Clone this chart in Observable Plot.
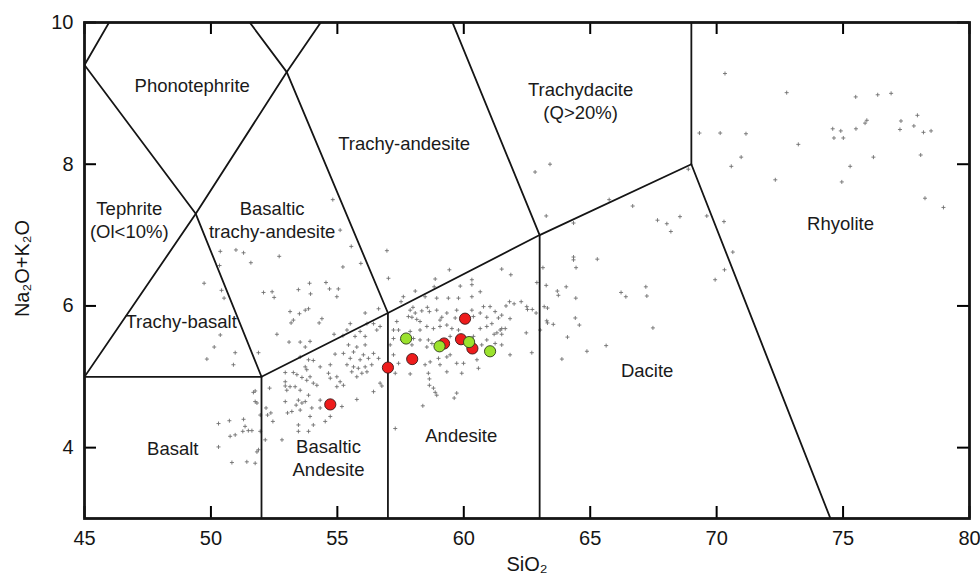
<!DOCTYPE html>
<html><head><meta charset="utf-8">
<script src="https://cdn.jsdelivr.net/npm/d3@7"></script>
<script src="https://cdn.jsdelivr.net/npm/@observablehq/plot@0.6"></script>
<style>body{margin:0;background:#fff;} #chart svg{display:block;font-family:'Liberation Sans',Arial,Helvetica,sans-serif;color:#151515;background:#fff}</style>
</head><body><div id="chart"></div>
<script>
// Axis domains and tick values
const xDomain = [45, 80];
const yDomain = [3, 10];
const xTicks = [45, 50, 55, 60, 65, 70, 75, 80];
const yTicks = [4, 6, 8, 10];

// TAS field boundaries (SiO2, Na2O+K2O)
const boundaryLines = [
  [[45, 9.4], [49.4, 7.3], [52, 5]],
  [[45, 5], [49.4, 7.3], [53, 9.3], [57.6, 11.7]],
  [[45, 9.4], [48.4, 11.5]],
  [[48.4, 11.5], [53, 9.3], [57, 5.9]],
  [[57, 3], [57, 5.9]],
  [[52, 3], [52, 5]],
  [[45, 5], [52, 5], [57, 5.9], [63, 7], [69, 8]],
  [[63, 3], [63, 7], [57.6, 11.7]],
  [[69, 8], [69, 12]],
  [[69, 8], [74.5, 3]]
];

// Field names and label positions
const regionNames = ["Phonotephrite", "Tephrite\n(Ol<10%)", "Basaltic\ntrachy-andesite", "Trachy-andesite",
  "Trachydacite\n(Q>20%)", "Trachy-basalt", "Basalt", "Basaltic\nAndesite", "Andesite", "Dacite", "Rhyolite"];
const regionSiO2 = [49.26, 46.77, 52.42, 57.64, 64.62, 48.82, 48.49, 54.65, 59.9, 67.25, 74.9];
const regionAlk = [9.13, 7.23, 7.23, 8.30, 8.90, 5.80, 4.00, 3.87, 4.18, 5.10, 7.17];

// Sample groups
const redSiO2 = [60.05, 59.89, 59.22, 60.34, 57.96, 57.0, 54.72];
const redAlk = [5.82, 5.53, 5.47, 5.40, 5.25, 5.13, 4.61];
const greenSiO2 = [57.72, 59.04, 60.21, 61.04];
const greenAlk = [5.54, 5.43, 5.49, 5.36];

// Background compilation (SiO2, Na2O+K2O)
const bgPoints = [
[50.37,6.77],[50.99,6.79],[51.29,6.75],[51.58,6.61],[52.70,6.70],[50.34,6.57],[49.73,6.32],[50.42,6.22],[50.52,6.11],[52.08,6.19],
[52.42,6.20],[52.50,6.12],[53.46,6.23],[53.90,6.32],[53.94,6.17],[54.55,6.33],[54.69,6.24],[54.98,6.13],[55.04,6.24],[53.13,5.92],
[53.50,5.89],[53.73,5.94],[53.86,5.96],[53.26,5.80],[53.17,5.76],[54.39,5.82],[54.28,5.76],[52.61,5.60],[54.87,5.60],[53.09,5.49],
[53.53,5.49],[53.92,5.50],[53.73,5.42],[50.13,5.42],[49.84,5.25],[50.89,5.17],[50.96,5.34],[51.88,5.34],[53.53,5.28],[53.86,5.24],
[54.05,5.23],[53.73,5.14],[53.79,5.10],[54.32,5.14],[54.72,5.17],[54.91,5.32],[54.65,5.05],[54.72,4.98],[54.98,5.00],[52.94,5.06],
[53.26,5.06],[53.40,5.03],[53.60,4.99],[53.79,4.95],[53.92,5.00],[52.94,4.93],[53.13,4.86],[52.94,4.87],[53.00,4.81],[53.33,4.86],
[53.53,4.81],[54.05,4.91],[54.19,4.88],[54.98,4.86],[52.32,4.84],[51.75,4.80],[51.68,4.78],[51.75,4.65],[52.94,4.65],[53.46,4.67],
[53.60,4.63],[53.73,4.65],[53.86,4.74],[54.32,4.67],[53.37,4.60],[53.53,4.53],[53.99,4.56],[54.32,4.56],[54.58,4.58],[52.18,4.56],
[52.24,4.46],[52.37,4.49],[52.45,4.37],[53.03,4.49],[53.20,4.51],[53.92,4.44],[54.52,4.37],[54.72,4.44],[53.46,4.32],[54.05,4.32],
[53.46,4.23],[53.86,4.23],[52.81,4.11],[52.15,4.11],[51.95,4.23],[51.88,3.97],[51.75,3.78],[50.30,4.34],[50.73,4.38],[51.29,4.40],
[51.35,4.30],[51.26,4.23],[51.48,4.24],[51.62,4.24],[50.76,4.16],[50.96,4.18],[50.30,4.01],[50.83,3.79],[51.42,3.80],[51.82,3.94],
[51.82,4.63],[51.95,4.46],[50.37,5.59],[54.82,7.50],[55.11,7.07],[55.55,6.84],[55.22,6.55],[55.93,6.60],[56.96,6.78],[57.02,6.39],
[58.87,6.38],[59.43,6.51],[59.86,6.28],[60.32,6.37],[60.32,6.30],[61.50,6.52],[61.86,6.44],[62.82,7.89],[63.41,8.00],[63.26,7.27],
[64.34,7.17],[66.68,7.41],[65.75,7.50],[67.66,7.21],[68.03,7.16],[68.19,7.05],[68.55,7.26],[64.34,6.69],[64.34,6.65],[65.28,6.66],
[64.44,6.54],[63.13,6.54],[63.26,6.29],[64.05,6.27],[63.70,6.21],[63.74,6.15],[64.43,6.11],[66.22,6.19],[66.41,6.13],[67.20,6.27],
[67.24,6.14],[64.41,5.83],[64.57,5.73],[67.48,5.69],[64.10,5.56],[65.63,5.44],[64.87,5.36],[63.88,5.25],[62.89,6.33],[63.18,5.99],
[63.31,5.97],[63.28,5.79],[63.31,5.76],[63.54,5.74],[63.02,5.66],[62.86,5.90],[62.69,5.34],[61.81,6.06],[61.99,6.03],[62.27,6.06],
[61.67,6.00],[62.49,5.99],[62.52,5.95],[62.71,5.95],[61.24,5.92],[61.50,5.87],[61.37,5.83],[61.83,5.82],[61.11,5.75],[61.50,5.68],
[61.64,5.68],[61.44,5.66],[61.31,5.62],[61.20,5.60],[61.50,5.60],[62.47,5.62],[61.24,5.47],[61.50,5.45],[61.83,5.31],[61.04,5.99],
[58.83,6.27],[58.08,6.21],[57.61,6.13],[57.52,6.06],[58.47,6.13],[58.93,6.11],[59.39,6.11],[60.65,6.20],[60.32,6.13],[59.79,6.11],
[56.10,5.90],[56.63,5.96],[56.43,5.75],[56.17,5.75],[55.90,5.64],[55.51,5.75],[55.38,5.66],[55.22,5.58],[55.70,5.57],[56.10,5.57],
[55.44,5.45],[55.77,5.42],[56.10,5.45],[56.56,5.66],[56.69,5.71],[57.22,5.66],[57.35,5.78],[57.88,5.94],[57.99,5.98],[58.08,5.90],
[58.34,5.93],[58.56,5.98],[58.64,5.92],[58.93,5.94],[57.81,5.85],[57.95,5.84],[58.14,5.81],[58.27,5.78],[59.13,5.84],[59.06,5.80],
[59.33,5.90],[59.72,5.94],[59.66,5.83],[60.32,5.94],[60.38,5.85],[60.65,5.90],[60.78,5.99],[60.91,5.84],[57.42,5.66],[57.88,5.64],
[58.27,5.66],[58.54,5.71],[58.80,5.68],[59.06,5.71],[59.33,5.73],[59.53,5.68],[59.79,5.66],[60.65,5.68],[60.91,5.71],[57.22,5.54],
[57.55,5.52],[58.01,5.54],[58.27,5.52],[58.60,5.52],[59.46,5.57],[60.38,5.57],[57.09,5.45],[57.95,5.45],[58.54,5.42],[58.74,5.47],
[60.71,5.45],[60.91,5.52],[55.24,5.33],[55.64,5.35],[56.03,5.31],[56.43,5.33],[55.51,5.26],[55.90,5.24],[56.23,5.26],[56.63,5.26],
[55.38,5.17],[55.64,5.14],[55.83,5.12],[56.10,5.14],[56.36,5.17],[55.57,5.07],[55.97,5.05],[56.17,5.07],[55.77,5.00],[55.11,4.93],
[55.24,4.88],[56.69,4.91],[56.76,4.87],[56.43,4.79],[55.18,4.58],[55.77,4.68],[57.29,4.27],[57.29,5.05],[57.88,5.04],[57.42,5.19],
[57.22,5.31],[58.47,5.17],[58.67,5.21],[59.00,5.26],[59.33,5.28],[59.46,5.31],[59.72,5.19],[59.99,5.19],[59.06,5.17],[59.33,5.07],
[60.52,5.24],[60.58,5.12],[59.92,5.05],[58.60,5.05],[58.64,4.97],[58.64,4.88],[58.80,4.84],[58.87,4.78],[58.93,4.74],[59.72,4.77],
[59.62,4.70],[58.38,4.59],
[70.33,9.28],[72.77,9.01],[75.50,8.95],[76.37,8.98],[76.90,9.00],[77.94,8.69],[77.29,8.61],[75.87,8.58],[75.94,8.62],[74.59,8.50],
[74.91,8.47],[75.51,8.50],[74.64,8.37],[75.01,8.37],[77.25,8.49],[77.80,8.54],[78.18,8.45],[78.48,8.47],[73.23,8.28],[69.32,8.44],
[70.14,8.44],[71.16,8.43],[70.97,8.10],[70.58,7.97],[76.20,8.10],[75.28,7.97],[78.07,8.13],[72.32,7.78],[74.95,7.75],[78.24,7.52],
[78.97,7.39],[68.88,7.93],[69.61,7.27],[70.29,7.19],[70.64,6.76],[70.31,6.51],[69.94,6.37]
];

// Tables built from the arrays
const boundaryRows = boundaryLines.flatMap((pts, id) => pts.map(([x, y]) => ({id, x, y})));
const regions = regionNames.map((name, i) => ({name, x: regionSiO2[i], y: regionAlk[i]}));
const red = redSiO2.map((x, i) => ({x, y: redAlk[i]}));
const green = greenSiO2.map((x, i) => ({x, y: greenAlk[i]}));

const ink = "#151515";
const W = 980, H = 582, mL = 84, mR = 11, mT = 22, mB = 64, TL = 12;
const innerW = W - mL - mR, innerH = H - mT - mB;

const chart = Plot.plot({
  width: W, height: H,
  marginLeft: mL, marginRight: mR, marginTop: mT, marginBottom: mB,
  x: {domain: xDomain},
  y: {domain: yDomain},
  marks: [
    Plot.dot(bgPoints, {x: d => d[0], y: d => d[1], symbol: "plus", r: 1.4, stroke: "#707070", strokeWidth: 0.9}),
    Plot.line(boundaryRows, {x: "x", y: "y", z: "id", stroke: ink, strokeWidth: 1.8, clip: true}),
    Plot.text(regions, {x: "x", y: "y", text: "name", fontSize: 18.5, lineHeight: 1.25, fill: "#1a1a1a"}),
    Plot.dot(red, {x: "x", y: "y", r: 5.6, fill: "#ee1c1c", stroke: "#3a1a1a", strokeWidth: 0.9}),
    Plot.dot(green, {x: "x", y: "y", r: 5.6, fill: "#9be22d", stroke: "#2d3a1a", strokeWidth: 0.9}),
    // inward tick marks on all four sides
    Plot.ruleX(xTicks, {x: d => d, insetTop: innerH - TL, stroke: "black", strokeWidth: 2}),
    Plot.ruleX(xTicks, {x: d => d, insetBottom: innerH - TL, stroke: "black", strokeWidth: 2}),
    Plot.ruleY(yTicks, {y: d => d, insetRight: innerW - TL, stroke: "black", strokeWidth: 2}),
    Plot.ruleY(yTicks, {y: d => d, insetLeft: innerW - TL, stroke: "black", strokeWidth: 2}),
    Plot.frame({stroke: ink, strokeWidth: 2.8}),
    Plot.axisX({ticks: xTicks, tickSize: 0, tickPadding: 12, fontSize: 20, tickFormat: d => String(d), label: null}),
    Plot.axisY({ticks: yTicks, tickSize: 0, tickPadding: 11, fontSize: 20, tickFormat: d => String(d), label: null}),
    Plot.text(["SiO₂"], {text: d => d, frameAnchor: "bottom", dy: 52, fontSize: 20, textAnchor: "middle"}),
    Plot.text(["Na₂O+K₂O"], {text: d => d, frameAnchor: "left", dx: -62, dy: -2, rotate: -90, fontSize: 20, textAnchor: "middle"})
  ]
});
document.getElementById("chart").appendChild(chart);
</script>
</body></html>
